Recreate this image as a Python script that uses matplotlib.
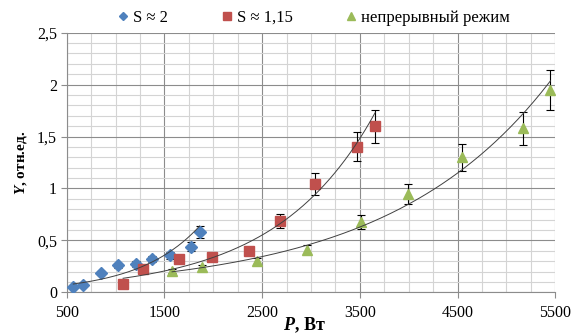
import numpy as np
import matplotlib
matplotlib.use('Agg')
import matplotlib.pyplot as plt
from matplotlib.ticker import MultipleLocator, FixedLocator, FuncFormatter

plt.rcParams['font.family'] = ['Liberation Serif', 'DejaVu Serif']
plt.rcParams['mathtext.fontset'] = 'custom'
plt.rcParams['mathtext.it'] = 'Liberation Serif:italic:bold'
plt.rcParams['mathtext.rm'] = 'Liberation Serif:bold'

# S ~ 2
p_s2 = [567, 667, 848, 1022, 1206, 1376, 1557, 1769, 1861]
y_s2 = [0.05, 0.073, 0.185, 0.26, 0.275, 0.32, 0.355, 0.44, 0.58]

# S ~ 1,15
p_s115 = [1077, 1284, 1646, 1991, 2363, 2683, 3045, 3475, 3656]
y_s115 = [0.083, 0.227, 0.323, 0.34, 0.40, 0.685, 1.045, 1.40, 1.60]

# continuous mode
p_cont = [1578, 1885, 2445, 2956, 3512, 3993, 4546, 5174, 5450]
y_cont = [0.205, 0.24, 0.30, 0.41, 0.68, 0.95, 1.30, 1.58, 1.95]

err_frac = 0.10  # error bars, 10 % of value

x_ticks = [500, 1500, 2500, 3500, 4500, 5500]

labels = ['S ≈ 2', 'S ≈ 1,15', 'непрерывный режим']
colors = ['#4F81BD', '#C0504D', '#9BBB59']
markers = ['D', 's', '^']
msizes = [6, 7.5, 7.5]


def exp_trend(x, y):
    # Excel-like exponential trendline
    x = np.asarray(x, float)
    y = np.asarray(y, float)
    b, a = np.polyfit(x, np.log(y), 1)
    xs = np.linspace(x.min(), x.max(), 200)
    return xs, np.exp(a) * np.exp(b * xs)


fig = plt.figure(figsize=(5.73, 3.33), dpi=100)
ax = fig.add_axes([66.7 / 573, 1 - 292.3 / 333, (555.3 - 66.7) / 573, (292.3 - 32.7) / 333])

series = [(p_s2, y_s2), (p_s115, y_s115), (p_cont, y_cont)]
handles = []
for (x, y), lab, c, m, ms in zip(series, labels, colors, markers, msizes):
    yerr = [v * err_frac for v in y]
    ax.errorbar(x, y, yerr=yerr, fmt='none', ecolor='black', elinewidth=0.8,
                capsize=3, capthick=0.8, zorder=3)
    h, = ax.plot(x, y, linestyle='none', marker=m, markersize=ms, color=c,
                 markeredgecolor=c, label=lab, zorder=4)
    handles.append(h)
    xs, ys = exp_trend(x, y)
    ax.plot(xs, ys, color='#404040', linewidth=0.7, zorder=5)

ax.set_xlim(500, 5500)
ax.set_ylim(0, 2.5)
ax.xaxis.set_major_locator(FixedLocator(x_ticks))
ax.xaxis.set_minor_locator(MultipleLocator(250))
ax.yaxis.set_major_locator(MultipleLocator(0.5))
ax.yaxis.set_minor_locator(MultipleLocator(0.1))
ax.yaxis.set_major_formatter(FuncFormatter(lambda v, pos: ('%g' % v).replace('.', ',')))
ax.xaxis.set_major_formatter(FuncFormatter(lambda v, pos: '%d' % v))

ax.grid(which='major', color='#8c8c8c', linewidth=0.8)
ax.grid(which='minor', color='#d4d4d4', linewidth=0.8)
ax.set_axisbelow(True)
for side in ['top', 'right']:
    ax.spines[side].set_visible(False)
for side in ['left', 'bottom']:
    ax.spines[side].set_color('#8c8c8c')
ax.tick_params(which='major', length=4, color='#8c8c8c', labelsize=11.5)
ax.tick_params(axis='x', pad=5)
ax.tick_params(axis='y', pad=3)
ax.tick_params(which='minor', length=0)

ax.set_ylabel('$Y$, отн.ед.', fontsize=11, fontweight='bold', labelpad=6)
fig.text(304 / 573, 1 - 315 / 333, '$P$, Вт', fontsize=13, fontweight='bold',
         ha='center', va='top')

fig.legend(handles=handles, labels=labels, loc='center', ncol=3,
           bbox_to_anchor=(314 / 573, 1 - 18 / 333), frameon=False,
           fontsize=12, markerscale=0.7, handlelength=0.6, handletextpad=0.3,
           columnspacing=3.2, numpoints=1)

fig.savefig('out.png', dpi=100)
